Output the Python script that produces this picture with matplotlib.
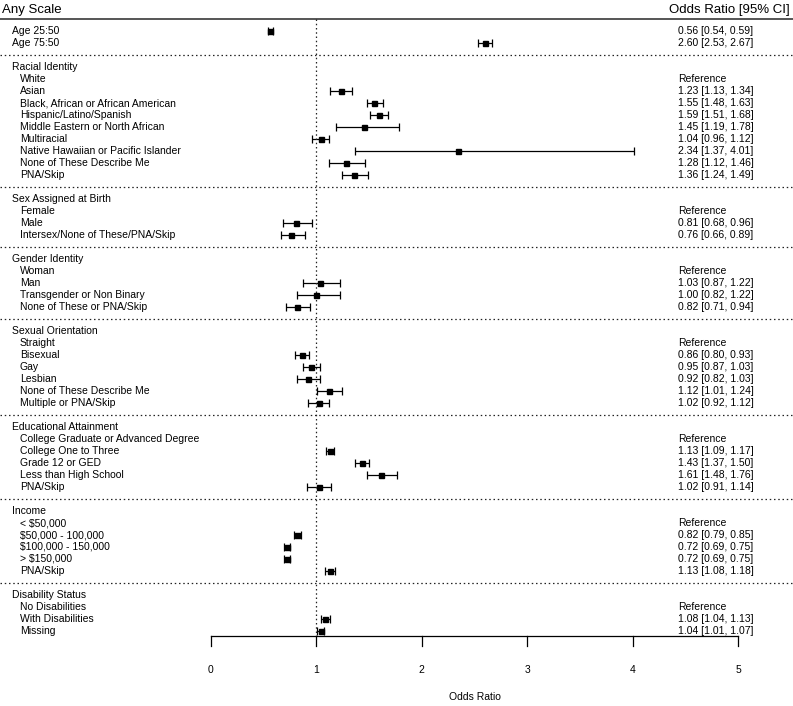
import matplotlib
matplotlib.use('Agg')
from matplotlib import pyplot
from matplotlib.transforms import blended_transform_factory

# ---- data -------------------------------------------------------------
SECTION_TITLES = [
    None,
    'Racial Identity',
    'Sex Assigned at Birth',
    'Gender Identity',
    'Sexual Orientation',
    'Educational Attainment',
    'Income',
    'Disability Status',
]

SECTION_LABELS = [
    ['Age 25:50', 'Age 75:50'],
    ['White', 'Asian', 'Black, African or African American', 'Hispanic/Latino/Spanish',
     'Middle Eastern or North African', 'Multiracial', 'Native Hawaiian or Pacific Islander',
     'None of These Describe Me', 'PNA/Skip'],
    ['Female', 'Male', 'Intersex/None of These/PNA/Skip'],
    ['Woman', 'Man', 'Transgender or Non Binary', 'None of These or PNA/Skip'],
    ['Straight', 'Bisexual', 'Gay', 'Lesbian', 'None of These Describe Me', 'Multiple or PNA/Skip'],
    ['College Graduate or Advanced Degree', 'College One to Three', 'Grade 12 or GED',
     'Less than High School', 'PNA/Skip'],
    ['< $50,000', '$50,000 - 100,000', '$100,000 - 150,000', '> $150,000', 'PNA/Skip'],
    ['No Disabilities', 'With Disabilities', 'Missing'],
]

# None marks the reference level
SECTION_OR = [
    [0.56, 2.60],
    [None, 1.23, 1.55, 1.59, 1.45, 1.04, 2.34, 1.28, 1.36],
    [None, 0.81, 0.76],
    [None, 1.03, 1.00, 0.82],
    [None, 0.86, 0.95, 0.92, 1.12, 1.02],
    [None, 1.13, 1.43, 1.61, 1.02],
    [None, 0.82, 0.72, 0.72, 1.13],
    [None, 1.08, 1.04],
]
SECTION_LOW = [
    [0.54, 2.53],
    [None, 1.13, 1.48, 1.51, 1.19, 0.96, 1.37, 1.12, 1.24],
    [None, 0.68, 0.66],
    [None, 0.87, 0.82, 0.71],
    [None, 0.80, 0.87, 0.82, 1.01, 0.92],
    [None, 1.09, 1.37, 1.48, 0.91],
    [None, 0.79, 0.69, 0.69, 1.08],
    [None, 1.04, 1.01],
]
SECTION_HIGH = [
    [0.59, 2.67],
    [None, 1.34, 1.63, 1.68, 1.78, 1.12, 4.01, 1.46, 1.49],
    [None, 0.96, 0.89],
    [None, 1.22, 1.22, 0.94],
    [None, 0.93, 1.03, 1.03, 1.24, 1.12],
    [None, 1.17, 1.50, 1.76, 1.14],
    [None, 0.85, 0.75, 0.75, 1.18],
    [None, 1.13, 1.07],
]

X_TICKS = [0, 1, 2, 3, 4, 5]

# ---- layout -----------------------------------------------------------
WIDTH_PX, HEIGHT_PX = 793, 706
X0_PX, PX_PER_UNIT = 211, 105.4
ROW0_PX, ROW_PX = 31, 12
FONT = 'Liberation Sans'
TEXT_SIZE = 7.5


def main():
    pyplot.rcParams['font.family'] = FONT
    fig = pyplot.figure(figsize=(WIDTH_PX / 100, HEIGHT_PX / 100), dpi=100)
    ax = fig.add_axes([0, 0, 1, 1])
    ax.set_xlim(-X0_PX / PX_PER_UNIT, (WIDTH_PX - X0_PX) / PX_PER_UNIT)
    ax.set_ylim((HEIGHT_PX - ROW0_PX) / ROW_PX, -ROW0_PX / ROW_PX)
    ax.axis('off')

    trans = blended_transform_factory(fig.transFigure, ax.transData)

    def fx(px):
        return px / WIDTH_PX

    row = 0
    for s, title in enumerate(SECTION_TITLES):
        if s > 0:
            ax.plot([0, 1], [row, row], transform=trans, color='#222222', lw=0.9,
                    ls=(0, (1.2, 2.2)))
            row += 1
        if title is not None:
            ax.text(fx(12), row, title, transform=trans, ha='left', va='center',
                    fontsize=TEXT_SIZE)
            row += 1
        indent = 20 if title is not None else 12
        for lab, est, lo, hi in zip(SECTION_LABELS[s], SECTION_OR[s],
                                    SECTION_LOW[s], SECTION_HIGH[s]):
            ax.text(fx(indent), row, lab, transform=trans, ha='left', va='center',
                    fontsize=TEXT_SIZE)
            if est is None:
                ax.text(fx(678), row, 'Reference', transform=trans, ha='left',
                        va='center', fontsize=TEXT_SIZE)
            else:
                ax.errorbar(est, row, xerr=[[est - lo], [hi - est]], fmt='s',
                            color='black', ms=3.6, lw=0.9, capsize=2.6, capthick=0.9)
                ax.text(fx(678), row, f'{est:.2f} [{lo:.2f}, {hi:.2f}]', transform=trans,
                        ha='left', va='center', fontsize=TEXT_SIZE)
            row += 1
    last_row = row - 1

    # header
    ax.text(fx(2), -1.75, 'Any Scale', transform=trans, ha='left', va='center', fontsize=9.5)
    ax.text(fx(790), -1.75, 'Odds Ratio [95% CI]', transform=trans, ha='right',
            va='center', fontsize=9.5)
    ax.plot([0, 1], [-1, -1], transform=trans, color='#555555', lw=1.4)

    # reference line at OR = 1
    axis_y = last_row + 0.42
    ax.plot([1, 1], [-1, axis_y], color='#222222', lw=0.9, ls=(0, (1.2, 2.2)))

    # bottom axis
    ax.plot([X_TICKS[0], X_TICKS[-1]], [axis_y, axis_y], color='black', lw=0.9)
    for t in X_TICKS:
        ax.plot([t, t], [axis_y, axis_y + 0.85], color='black', lw=0.9)
        ax.text(t, axis_y + 2.85, str(t), ha='center', va='center', fontsize=TEXT_SIZE)
    ax.text(2.5, axis_y + 5.1, 'Odds Ratio', ha='center', va='center', fontsize=TEXT_SIZE)

    fig.savefig('out.png', dpi=100)


if __name__ == '__main__':
    main()
